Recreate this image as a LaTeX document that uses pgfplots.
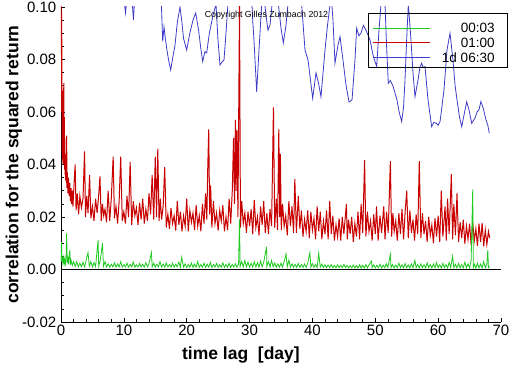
\documentclass[border=0pt]{standalone}
\usepackage{fontspec}
\setmainfont{Liberation Sans}
\usepackage{pgfplots}
\pgfplotsset{compat=1.18}
\definecolor{cgreen}{RGB}{30,200,30}
\definecolor{cred}{RGB}{200,0,0}
\definecolor{cblue}{RGB}{60,60,200}
\begin{document}
\begin{tikzpicture}
\begin{axis}[
  width=440pt, height=315pt, scale only axis,
  xmin=0, xmax=70, ymin=-0.02, ymax=0.10,
  axis x line=bottom, axis y line=left,
  axis line style={-, black, line width=0.8pt},
  xtick={0,10,20,30,40,50,60,70},
  xticklabels={0,10,20,30,40,50,60,70},
  ytick={-0.02,0,0.02,0.04,0.06,0.08,0.10},
  yticklabels={-0.02,0.00,0.02,0.04,0.06,0.08,0.10},
  minor x tick num=4, minor y tick num=3,
  tick align=inside, major tick length=4pt, minor tick length=3pt,
  tick style={black, line width=0.6pt},
  xticklabel style={font=\fontsize{15}{15}\selectfont, inner sep=0pt, anchor=north, yshift=-2.5pt},
  yticklabel style={font=\fontsize{15}{15}\selectfont, inner sep=0pt, anchor=east, xshift=-4.5pt},
  xlabel={time lag\ \ [day]},
  ylabel={correlation for the squared return},
  xlabel style={at={(rel axis cs:0.409,-0.1206)}, anchor=base, inner sep=0pt, font=\fontsize{17.5}{17.5}\selectfont\bfseries},
  ylabel style={at={(rel axis cs:-0.0966,0.5)}, anchor=base, inner sep=0pt, font=\fontsize{17.5}{17.5}\selectfont\bfseries},
  clip mode=individual,
  legend style={at={(rel axis cs:0.7068,0.9492)}, anchor=north west, draw=none, fill=none,
    inner sep=0pt, row sep=5pt, column sep=12pt,
    nodes={inner sep=0pt, text height=9.7pt, text depth=0pt, font=\fontsize{13.5}{13.5}\selectfont}},
  legend cell align=right,
  legend image code/.code={\draw[#1, line width=0.8pt] (0pt,0pt) -- (57pt,0pt);},
]
\addlegendimage{cgreen}
\addlegendentry{00:03}
\addlegendimage{cred}
\addlegendentry{01:00}
\addlegendimage{cblue}
\addlegendentry{1d 06:30}

\addplot[cblue, line width=0.8pt, forget plot] coordinates {
(9.8,0.108) (10.1,0.101) (10.26,0.0977) (10.4,0.101) (10.8,0.108) (11.3,0.103) (11.53,0.095) (11.7,0.103) (12.2,0.110) (14,0.115) (15.7,0.106) (15.99,0.100) (16.18,0.0869) (16.39,0.0924) (16.6,0.088) (16.86,0.0836) (17.1,0.080) (17.45,0.0760) (17.8,0.081) (18.14,0.0855) (18.5,0.094) (18.93,0.100) (19.2,0.095) (19.5,0.088) (19.99,0.0836) (20.5,0.090) (21.0,0.095) (21.43,0.0977) (21.9,0.091) (22.2,0.085) (22.54,0.0792) (22.9,0.083) (23.18,0.0825) (23.6,0.090) (24.2,0.097) (24.66,0.101) (24.96,0.088) (25.3,0.0779) (25.6,0.079) (25.93,0.0798) (26.25,0.090) (26.57,0.1015) (27,0.115) (29,0.12) (30.3,0.105) (30.5,0.095) (30.7,0.0874) (31.13,0.0677) (31.5,0.0836) (31.93,0.101) (32.2,0.106) (32.61,0.0970) (32.93,0.0912) (33.25,0.0931) (33.57,0.1008) (34,0.106) (34.5,0.103) (34.68,0.0989) (35.0,0.092) (35.37,0.0863) (35.8,0.0931) (36.1,0.1008) (36.6,0.11) (37.8,0.11) (38.29,0.1008) (38.82,0.0836) (39.3,0.0798) (39.7,0.072) (40.04,0.0652) (40.57,0.0749) (40.97,0.0710) (41.36,0.0658) (42.0,0.0836) (42.4,0.093) (42.79,0.1008) (43.0,0.104) (43.27,0.0950) (43.59,0.0786) (44.07,0.0855) (44.39,0.0887) (44.86,0.0798) (45.34,0.0703) (45.82,0.0638) (46.3,0.0646) (46.77,0.0798) (47.04,0.0920) (47.4,0.089) (47.73,0.0901) (48.1,0.093) (48.52,0.0912) (49.16,0.0874) (49.64,0.0817) (50.22,0.0773) (50.59,0.0912) (50.9,0.1008) (51.2,0.106) (51.55,0.1008) (51.8,0.085) (52.07,0.0709) (52.4,0.072) (52.82,0.0699) (53.45,0.0646) (53.8,0.060) (54.2,0.0563) (54.5,0.062) (54.73,0.0722) (55.0,0.088) (55.25,0.1008) (55.45,0.095) (55.68,0.0874) (56.0,0.075) (56.32,0.0658) (56.8,0.0722) (57.1,0.077) (57.38,0.0786) (57.6,0.077) (57.91,0.0773) (58.39,0.0646) (58.97,0.0544) (59.3,0.056) (59.66,0.0558) (60.0,0.055) (60.3,0.0563) (60.6,0.062) (60.93,0.0684) (61.41,0.0836) (61.89,0.0900) (62.36,0.0798) (62.7,0.070) (63.0,0.0646) (63.4,0.058) (63.75,0.0544) (64.12,0.0589) (64.54,0.0639) (64.91,0.0608) (65.34,0.0557) (65.86,0.0577) (66.2,0.060) (66.5,0.0608) (66.8,0.064) (67.18,0.0614) (67.61,0.0570) (67.9,0.055) (68.14,0.0519)
};

\addplot[cred, line width=1.0pt, forget plot] coordinates {
(0,0.100) (0.02,0.110) (0.05,0.082) (0.08,0.098) (0.11,0.060) (0.14,0.088) (0.17,0.045) (0.2,0.068) (0.24,0.042) (0.28,0.064) (0.32,0.040) (0.36,0.060) (0.4,0.041) (0.44,0.071) (0.48,0.040) (0.52,0.058) (0.56,0.038) (0.6,0.050) (0.65,0.036) (0.7,0.044) (0.75,0.034) (0.8,0.040) (0.85,0.033) (0.9,0.051) (0.95,0.031) (1.0,0.037) (1.1,0.029) (1.2,0.035) (1.3,0.028) (1.4,0.033) (1.5,0.026) (1.6,0.031) (1.7,0.025) (1.8,0.030) (1.9,0.024) (2.0,0.029)
(2.25,0.040) (2.4,0.0225) (2.6,0.029) (2.8,0.021) (3.0,0.028) (3.25,0.0235) (3.5,0.027) (3.75,0.045) (3.9,0.020) (4.1,0.028) (4.3,0.0215) (4.55,0.036) (4.75,0.0195) (5.0,0.024) (5.25,0.0185) (5.5,0.027) (5.75,0.0215) (6.0,0.0285) (6.2,0.0355) (6.4,0.0185) (6.6,0.025) (6.8,0.0205) (7.0,0.023) (7.25,0.018) (7.5,0.030) (7.75,0.0185) (8.0,0.027) (8.3,0.043) (8.5,0.0195) (8.75,0.024) (9.0,0.0175) (9.25,0.026) (9.5,0.043) (9.75,0.0185) (10.0,0.022) (10.25,0.0175) (10.5,0.028) (10.75,0.020) (11.0,0.041) (11.25,0.017) (11.5,0.026) (11.75,0.0205) (12.0,0.0235) (12.25,0.017) (12.5,0.0255) (12.75,0.019) (13.0,0.027) (13.25,0.0175) (13.5,0.023) (13.75,0.0185) (14.0,0.029) (14.25,0.021) (14.5,0.036) (14.75,0.019) (15.0,0.043) (15.2,0.020) (15.4,0.046) (15.6,0.0185) (15.8,0.027) (16.0,0.019) (16.25,0.024) (16.5,0.039) (16.75,0.016) (17.0,0.021)
(17.25,0.0155) (17.5,0.0235) (17.75,0.0175) (18.0,0.0205) (18.25,0.0148) (18.5,0.026) (18.75,0.017) (19.0,0.022) (19.25,0.0145) (19.5,0.0205) (19.75,0.0165) (20.0,0.027) (20.25,0.0145) (20.5,0.0225) (20.75,0.018) (21.0,0.0215) (21.25,0.015) (21.5,0.0245) (21.75,0.0165) (22.0,0.0205) (22.25,0.0145) (22.5,0.025) (22.75,0.0175) (23.0,0.029) (23.2,0.019) (23.35,0.039) (23.5,0.0534) (23.65,0.021) (23.8,0.032)
(24.0,0.016) (24.25,0.026) (24.5,0.0175) (24.75,0.0215) (25.0,0.0148) (25.25,0.0225) (25.5,0.0185) (25.75,0.0245) (26.0,0.0145) (26.25,0.020) (26.5,0.015) (26.75,0.027) (27.0,0.0175) (27.25,0.030) (27.45,0.050) (27.6,0.025) (27.75,0.057) (27.85,0.030) (28.0,0.053) (28.15,0.020) (28.4,0.101) (28.55,0.016) (28.75,0.026) (29.0,0.0175) (29.25,0.0215) (29.5,0.014) (29.75,0.022) (30.0,0.0165) (30.25,0.023) (30.5,0.0135) (30.75,0.0265) (31.0,0.016) (31.25,0.020) (31.5,0.013) (31.75,0.024) (32.0,0.017) (32.25,0.026) (32.5,0.014) (32.75,0.0215) (33.0,0.0135) (33.25,0.023) (33.5,0.0165) (33.8,0.0618) (34.0,0.016) (34.25,0.027) (34.45,0.015) (34.65,0.0534) (34.8,0.020) (34.9,0.044) (35.05,0.015) (35.25,0.025) (35.5,0.0165) (35.75,0.0205) (36.0,0.013) (36.25,0.026) (36.5,0.0165) (36.75,0.024) (37.0,0.014) (37.2,0.0345) (37.45,0.014) (37.75,0.028) (38.0,0.0155) (38.25,0.0225) (38.5,0.0125) (38.75,0.019) (39.0,0.0145) (39.25,0.0225) (39.5,0.012) (39.75,0.022) (40.0,0.015) (40.25,0.0195) (40.5,0.0115) (40.75,0.024) (41.0,0.0145) (41.25,0.022) (41.5,0.0115) (41.75,0.0185) (42.0,0.0135) (42.25,0.0225) (42.5,0.0115) (42.75,0.026) (43.0,0.0135) (43.25,0.0205) (43.5,0.011) (43.75,0.017) (44.0,0.0125) (44.25,0.0195) (44.5,0.011) (44.75,0.020) (45.0,0.0135) (45.4,0.025) (45.55,0.0115) (45.75,0.019) (46.0,0.0135) (46.25,0.020) (46.5,0.0105) (46.75,0.0175) (47.0,0.0125) (47.25,0.022) (47.5,0.0115) (47.75,0.025) (48.0,0.014) (48.3,0.0417) (48.5,0.0125) (48.75,0.022) (49.0,0.0145) (49.25,0.0185) (49.5,0.011) (49.75,0.021) (50.0,0.0135) (50.2,0.024) (50.45,0.011) (50.75,0.0205) (51.0,0.014) (51.35,0.024) (51.55,0.0115) (51.8,0.022) (52.05,0.014) (52.4,0.0413) (52.6,0.0125) (52.8,0.0215) (53.0,0.0145) (53.25,0.0185) (53.5,0.011) (53.75,0.0215) (54.0,0.0135) (54.25,0.023) (54.5,0.0115) (54.75,0.022) (55.0,0.030) (55.25,0.012) (55.5,0.0225) (55.75,0.014) (56.0,0.019) (56.25,0.011) (56.5,0.021) (56.75,0.0135) (57.0,0.0413) (57.25,0.012) (57.5,0.0215) (57.75,0.0135) (58.0,0.0185) (58.25,0.0105) (58.5,0.020) (58.75,0.013) (59.0,0.017) (59.25,0.010) (59.5,0.0195) (59.75,0.0125) (60.0,0.0205) (60.25,0.0105) (60.5,0.030) (60.75,0.0125) (61.1,0.024) (61.3,0.011) (61.5,0.027) (61.75,0.0135) (62.1,0.0363) (62.3,0.0115) (62.5,0.025) (62.75,0.013) (63.0,0.029) (63.25,0.0105) (63.5,0.018) (63.75,0.012) (64.0,0.019) (64.25,0.0098) (64.5,0.0165) (64.75,0.0115) (65.0,0.0175) (65.25,0.0093) (65.5,0.018) (65.75,0.011) (66.0,0.0155) (66.25,0.009) (66.5,0.0175) (66.75,0.0105) (67.0,0.0177) (67.25,0.0088) (67.5,0.015) (67.75,0.0095) (68.0,0.0145) (68.2,0.012)
};

\addplot[cgreen, line width=0.8pt, forget plot] coordinates {
(0,0.0100) (0.05,0.0030) (0.1,0.0105) (0.15,0.0030) (0.2,0.0050) (0.3,0.0025) (0.4,0.0045) (0.5,0.0022) (0.6,0.0040) (0.7,0.0020) (0.8,0.0035) (0.9,0.0138) (1.0,0.0025) (1.1,0.0050) (1.2,0.0020) (1.4,0.0074) (1.5,0.0018) (1.6,0.0035) (1.8,0.0016) (2.0,0.0030)
(2.25,0.0012) (2.5,0.0030) (2.75,0.0010) (3.0,0.0024) (3.25,0.0011) (3.5,0.0028) (3.75,0.0010) (4.0,0.0035) (4.3,0.0064) (4.5,0.0012) (4.75,0.0030) (5.0,0.0010) (5.25,0.0026) (5.5,0.0011) (5.9,0.0112) (6.0,0.0012) (6.25,0.0035) (6.6,0.0100) (6.75,0.0012) (7.0,0.0030) (7.25,0.0010) (7.5,0.0022) (7.75,0.0009) (8.0,0.0020) (8.25,0.0010) (8.5,0.0026) (8.75,0.0009) (9.0,0.0021) (9.25,0.0010) (9.5,0.0030) (9.75,0.0009) (10.0,0.0019) (10.25,0.0010) (10.5,0.0024) (10.75,0.0009) (11.0,0.0020) (11.25,0.0010) (11.5,0.0028) (11.75,0.0009) (12.0,0.0018) (12.25,0.0009) (12.5,0.0023) (12.75,0.0010) (13.0,0.0020) (13.25,0.0009) (13.5,0.0026) (13.75,0.0010) (14.0,0.0022) (14.4,0.0064) (14.5,0.0010) (14.75,0.0024) (15.0,0.0009) (15.25,0.0020) (15.5,0.0010) (15.75,0.0030) (16.0,0.0009) (16.25,0.0021) (16.5,0.0009) (16.75,0.0025) (17.0,0.0010) (17.25,0.0019) (17.5,0.0009) (17.75,0.0024) (18.0,0.0009) (18.25,0.0020) (18.5,0.0010) (18.75,0.0028) (19.0,0.0009) (19.2,0.0046) (19.5,0.0009) (19.75,0.0022) (20.0,0.0008) (20.25,0.0019) (20.5,0.0009) (20.75,0.0025) (21.0,0.0008) (21.25,0.0020) (21.5,0.0009) (21.75,0.0030) (22.0,0.0008) (22.25,0.0019) (22.5,0.0009) (22.75,0.0024) (23.0,0.0008) (23.25,0.0021) (23.5,0.0009) (23.75,0.0027) (24.0,0.0008) (24.25,0.0019) (24.5,0.0009) (24.75,0.0023) (25.0,0.0008) (25.25,0.0018) (25.5,0.0009) (25.75,0.0026) (26.0,0.0008) (26.25,0.0020) (26.5,0.0009) (26.75,0.0024) (27.0,0.0008) (27.25,0.0019) (27.5,0.0009) (27.75,0.0022) (28.0,0.0009) (28.25,0.0020) (28.4,0.0191) (28.5,0.0012) (28.75,0.0030) (29.0,0.0010) (29.25,0.0035) (29.5,0.0010) (29.75,0.0028) (30.0,0.0009) (30.25,0.0024) (30.5,0.0009) (30.75,0.0030) (31.0,0.0010) (31.25,0.0026) (31.5,0.0009) (31.75,0.0032) (32.0,0.0010) (32.25,0.0028) (32.7,0.0087) (32.75,0.0012) (33.0,0.0030) (33.25,0.0010) (33.5,0.0034) (33.75,0.0010) (34.0,0.0025) (34.25,0.0009) (34.5,0.0022) (34.75,0.0009) (35.0,0.0024) (35.25,0.0009) (35.5,0.0030) (35.8,0.0059) (36.0,0.0010) (36.25,0.0036) (36.5,0.0009) (36.75,0.0022) (37.0,0.0008) (37.25,0.0020) (37.5,0.0008) (37.75,0.0023) (38.0,0.0008) (38.25,0.0019) (38.5,0.0008) (38.75,0.0021) (39.0,0.0008) (39.25,0.0024) (39.6,0.0064) (39.75,0.0009) (40.0,0.0022) (40.25,0.0008) (40.5,0.0019) (40.75,0.0008) (41.0,0.0062) (41.25,0.0009) (41.5,0.0021) (41.75,0.0008) (42.0,0.0018) (42.25,0.0007) (42.5,0.0017) (42.75,0.0007) (43.0,0.0019) (43.25,0.0007) (43.5,0.0016) (43.75,0.0007) (44.0,0.0018) (44.25,0.0007) (44.5,0.0016) (44.75,0.0007) (45.0,0.0020) (45.25,0.0007) (45.5,0.0016) (45.75,0.0006) (46.0,0.0015) (46.25,0.0006) (46.5,0.0017) (46.75,0.0006) (47.0,0.0015) (47.25,0.0006) (47.5,0.0018) (47.75,0.0006) (48.0,0.0016) (48.25,0.0006) (48.5,0.0019) (48.75,0.0006) (49.0,0.0017) (49.4,0.0032) (49.5,0.0007) (49.75,0.0018) (50.0,0.0006) (50.25,0.0016) (50.5,0.0007) (50.75,0.0020) (51.0,0.0006) (51.25,0.0017) (51.5,0.0007) (51.75,0.0022) (52.0,0.0007) (52.4,0.0058) (52.5,0.0007) (52.75,0.0019) (53.0,0.0006) (53.25,0.0017) (53.5,0.0007) (53.75,0.0024) (54.0,0.0007) (54.25,0.0018) (54.5,0.0006) (54.75,0.0023) (55.0,0.0007) (55.25,0.0017) (55.5,0.0006) (55.75,0.0021) (56.0,0.0007) (56.3,0.0035) (56.5,0.0007) (56.75,0.0019) (57.0,0.0006) (57.25,0.0022) (57.5,0.0007) (57.75,0.0018) (58.0,0.0006) (58.25,0.0025) (58.5,0.0007) (58.75,0.0019) (59.0,0.0006) (59.25,0.0021) (59.5,0.0007) (59.75,0.0026) (60.0,0.0007) (60.25,0.0018) (60.5,0.0006) (60.75,0.0024) (61.0,0.0007) (61.25,0.0019) (61.5,0.0006) (61.75,0.0027) (62.0,0.0007) (62.3,0.0051) (62.5,0.0007) (62.75,0.0020) (63.0,0.0006) (63.25,0.0023) (63.5,0.0006) (63.75,0.0019) (64.0,0.0006) (64.25,0.0028) (64.5,0.0006) (64.75,0.0022) (65.0,0.0006) (65.25,0.0035) (65.5,0.0305) (65.6,0.0008) (65.75,0.0020) (66.0,0.0006) (66.25,0.0024) (66.5,0.0006) (66.75,0.0021) (67.0,0.0006) (67.25,0.0030) (67.5,0.0006) (67.75,0.0022) (67.9,0.0074) (68.0,0.0007) (68.2,0.0010)
};

\addplot[black, line width=0.8pt, forget plot] coordinates {(0,0) (70,0)};

\draw[black, line width=0.8pt] (rel axis cs:0.6977,0.9810) rectangle (rel axis cs:1.0136,0.8095);
\node[anchor=base, inner sep=0pt, font=\fontsize{8.8}{8.8}\selectfont] at (rel axis cs:0.467,0.9667) {Copyright Gilles Zumbach 2012};
\coordinate (ll) at (rel axis cs:0,0);
\coordinate (ur) at (rel axis cs:1,1);
\end{axis}
\pgfresetboundingbox
\path[use as bounding box] ([xshift=-61pt,yshift=-44pt]ll) rectangle ([xshift=11pt,yshift=7pt]ur);
\end{tikzpicture}
\end{document}
